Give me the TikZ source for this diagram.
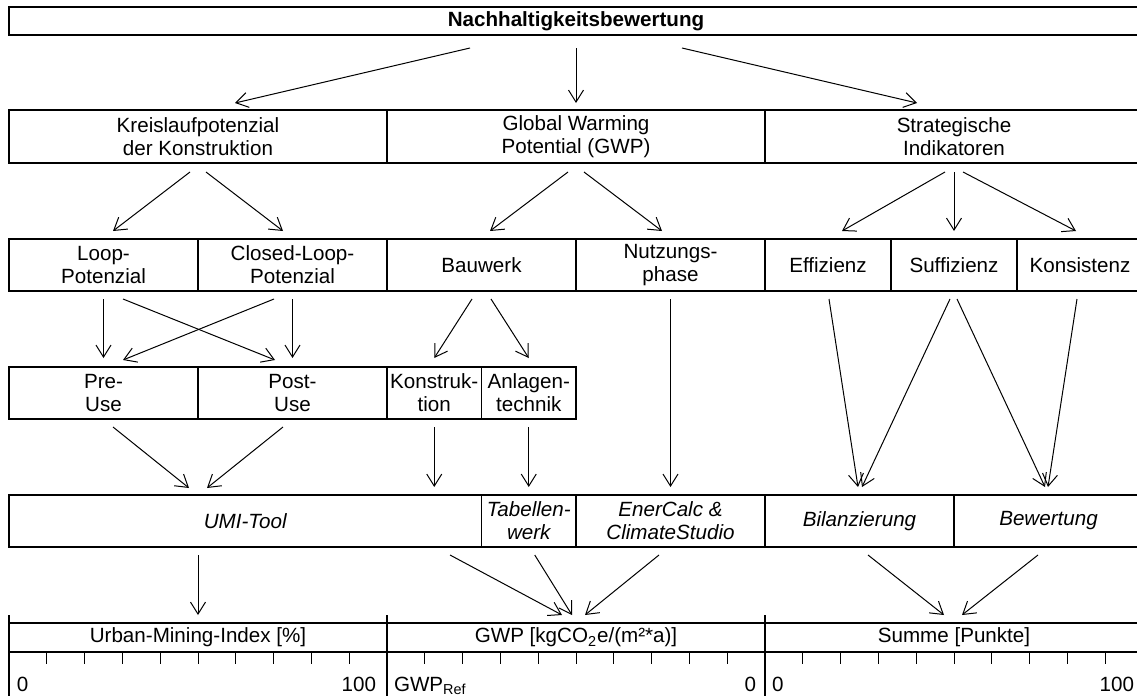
\documentclass[tikz,border=0pt]{standalone}
\usepackage{fontspec}
\setmainfont{Liberation Sans}
\usetikzlibrary{arrows.meta,calc}
\newcommand{\basefont}{\fontsize{10.3}{11.6}\selectfont}
\begin{document}
\begin{tikzpicture}[x=0.5pt,y=-0.5pt,
  every node/.style={font=\basefont},
  cell/.style={draw, line width=0.55pt, inner sep=0pt, outer sep=0pt, align=center, anchor=north west},
  tool/.style={cell, font=\basefont\itshape},
  arr/.style={line width=0.5pt, -{Straight Barb[length=6pt,width=7.5pt]}},
  frame/.style={line width=0.55pt},
  tick/.style={line width=0.5pt},
  lbl/.style={inner sep=0pt, outer sep=0pt}]
\useasboundingbox (0,0) rectangle (1137,696);
\clip (0,0) rectangle (1137,696);

% level 0
\node[cell, minimum width=567pt, minimum height=14pt, font=\basefont\bfseries] (top) at (9,7) {Nachhaltigkeitsbewertung};

% level 1
\node[cell, minimum width=189pt, minimum height=26.5pt] (kreis) at (9,110) {Kreislaufpotenzial\\der Konstruktion};
\node[cell, minimum width=189pt, minimum height=26.5pt] (gwp) at (387,110) {Global Warming\\Potential (GWP)};
\node[cell, minimum width=189pt, minimum height=26.5pt] (strat) at (765,110) {Strategische\\Indikatoren};

% level 2
\node[cell, minimum width=94.5pt, minimum height=26pt] (loop) at (9,239) {Loop-\\Potenzial};
\node[cell, minimum width=94.5pt, minimum height=26pt] (closed) at (198,239) {Closed-Loop-\\Potenzial};
\node[cell, minimum width=94.5pt, minimum height=26pt] (bau) at (387,239) {Bauwerk};
\node[cell, minimum width=94.5pt, minimum height=26pt] (nutz) at (576,239) {Nutzungs-\\phase};
\node[cell, minimum width=63pt, minimum height=26pt] (eff) at (765,239) {Effizienz};
\node[cell, minimum width=63pt, minimum height=26pt] (suff) at (891,239) {Suffizienz};
\node[cell, minimum width=63pt, minimum height=26pt] (kons) at (1017,239) {Konsistenz};

% level 3
\node[cell, minimum width=94.5pt, minimum height=26pt] (pre) at (9,367) {Pre-\\Use};
\node[cell, minimum width=94.5pt, minimum height=26pt] (post) at (198,367) {Post-\\Use};
\node[cell, minimum width=47.25pt, minimum height=26pt] (konst) at (387,367) {Konstruk-\\tion};
\node[cell, minimum width=47.25pt, minimum height=26pt] (anl) at (481.5,367) {Anlagen-\\technik};

% tools
\node[tool, minimum width=236.25pt, minimum height=26pt] (umi) at (9,495) {UMI-Tool};
\node[tool, minimum width=47.25pt, minimum height=26pt] (tab) at (481.5,495) {Tabellen-\\werk};
\node[tool, minimum width=94.5pt, minimum height=26pt] (ener) at (576,495) {EnerCalc \&\\ClimateStudio};
\node[tool, minimum width=94.5pt, minimum height=26pt] (bil) at (765,495) {Bilanzierung};
\node[tool, minimum width=94.5pt, minimum height=26pt] (bew) at (954,495) {Bewertung};

% scales
\node[cell, minimum width=189pt, minimum height=14.5pt] (umiidx) at (9,623) {Urban-Mining-Index [\%]};
\node[cell, minimum width=189pt, minimum height=14.5pt] (gwpidx) at (387,623) {GWP [kgCO\textsubscript{2}e/(m²*a)]};
\node[cell, minimum width=189pt, minimum height=14.5pt] (summe) at (765,623) {Summe [Punkte]};

\foreach \x in {9,387,765} \draw[frame] (\x,615) -- (\x,700);
\foreach \s in {9,387,765}
  \foreach \k in {1,...,9}
    \draw[tick] (\s+37.8*\k,652) -- ++(0,12);

\node[lbl, anchor=base west] (u0) at (17,691) {0};
\node[lbl, anchor=base east] (u100) at (376,691) {100};
\node[lbl, anchor=base west] (gref) at (394,691) {GWP\textsubscript{Ref}};
\node[lbl, anchor=base east] (g0) at (756,691) {0};
\node[lbl, anchor=base west] (s0) at (772,691) {0};
\node[lbl, anchor=base east] (s100) at (1134,691) {100};

% level 0 -> level 1
\draw[arr] ($(top.south)+(-106,13)$) -- ($(kreis.north)+(37,-7)$);
\draw[arr] ($(top.south)+(0,13)$) -- ($(gwp.north)+(0,-7)$);
\draw[arr] ($(top.south)+(106,13)$) -- ($(strat.north)+(-37,-7)$);

% level 1 -> level 2
\draw[arr] ($(kreis.south)+(-8,9)$) -- ($(loop.north)+(9.5,-8)$);
\draw[arr] ($(kreis.south)+(8,9)$) -- ($(closed.north)+(-9.5,-8)$);
\draw[arr] ($(gwp.south)+(-8,9)$) -- ($(bau.north)+(8.5,-8)$);
\draw[arr] ($(gwp.south)+(8,9)$) -- ($(nutz.north)+(-8.5,-8)$);
\draw[arr] ($(strat.south)+(-9,9)$) -- ($(eff.north)+(14,-8)$);
\draw[arr] ($(strat.south)+(0,9)$) -- ($(suff.north)+(0,-8)$);
\draw[arr] ($(strat.south)+(9,9)$) -- ($(kons.north)+(-4,-8)$);

% level 2 -> level 3 / tools
\draw[arr] ($(loop.south)+(0,8)$) -- ($(pre.north)+(0,-9)$);
\draw[arr] ($(loop.south)+(19.5,8)$) -- ($(post.north)+(-17.5,-7)$);
\draw[arr] ($(closed.south)+(-18.5,8)$) -- ($(pre.north)+(19.5,-7)$);
\draw[arr] ($(closed.south)+(0,8)$) -- ($(post.north)+(0,-9)$);
\draw[arr] ($(bau.south)+(-9.5,8)$) -- ($(konst.north)+(0,-9)$);
\draw[arr] ($(bau.south)+(9.5,8)$) -- ($(anl.north)+(0,-9)$);
\draw[arr] ($(nutz.south)+(0,8)$) -- ($(ener.north)+(0,-8)$);
\draw[arr] ($(eff.south)+(1,8)$) -- ($(bil.north)+(-1.5,-8)$);
\draw[arr] ($(suff.south)+(-4,8)$) -- ($(bil.north)+(2.5,-8)$);
\draw[arr] ($(suff.south)+(3,8)$) -- ($(bew.north)+(-3.5,-8)$);
\draw[arr] ($(kons.south)+(-3,8)$) -- ($(bew.north)+(-0.5,-8)$);

% level 3 -> tools
\draw[arr] ($(pre.south)+(9.5,8)$) -- ($(umi.north)+(-56.25,-7)$);
\draw[arr] ($(post.south)+(-9.5,8)$) -- ($(umi.north)+(-38.25,-7)$);
\draw[arr] ($(konst.south)+(0,8)$) -- ($(konst.south |- umi.north)+(0,-8)$);
\draw[arr] ($(anl.south)+(0,8)$) -- ($(tab.north)+(0,-8)$);

% tools -> scales
\draw[arr] ($(umiidx.north |- umi.south)+(0,8)$) -- ($(umiidx.north)+(0,-8)$);
\draw[arr] ($(umi.south east)+(-31.5,8)$) -- ($(gwpidx.north)+(-14,-8)$);
\draw[arr] ($(tab.south)+(6,8)$) -- ($(gwpidx.north)+(-4,-8)$);
\draw[arr] ($(ener.south)+(-11.5,8)$) -- ($(gwpidx.north)+(9,-8)$);
\draw[arr] ($(bil.south)+(8.5,8)$) -- ($(summe.north)+(-10,-8)$);
\draw[arr] ($(bew.south)+(-10.5,8)$) -- ($(summe.north)+(8,-8)$);
\end{tikzpicture}
\end{document}
